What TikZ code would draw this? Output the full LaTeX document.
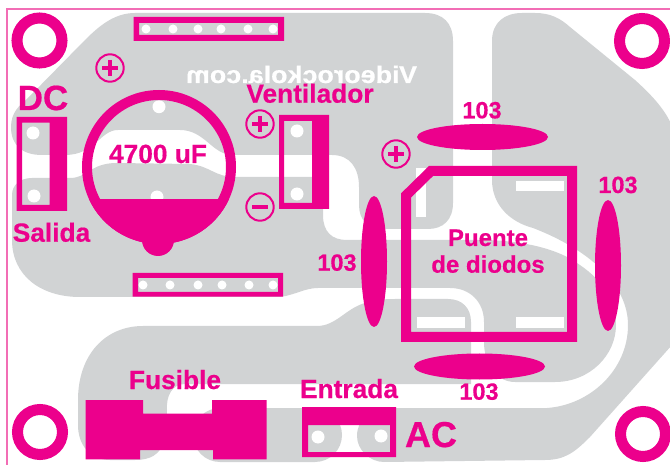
\documentclass[tikz,border=0pt]{standalone}
\usepackage{fontspec}
\setmainfont{Liberation Sans}[BoldFeatures={FakeBold=0.5}]
\definecolor{plategray}{HTML}{D1D3D4}
\definecolor{inkpink}{HTML}{EC008C}
\definecolor{edgepink}{HTML}{F26DB5}
\tikzset{
  plate/.style={fill=plategray},
  ink/.style={fill=inkpink},
  pad/.style={fill=white},
  bigtext/.style={text=inkpink,anchor=base,inner sep=0pt,font=\bfseries\fontsize{26.3}{30}\selectfont},
  captext/.style={text=inkpink,anchor=base,inner sep=0pt,font=\bfseries\fontsize{23.5}{28}\selectfont},
  ring/.style={draw=inkpink,line width=11pt},
  signring/.style={draw=inkpink,line width=2pt},
  signbar/.style={draw=inkpink,line width=3.6pt}
}
\begin{document}
\begin{tikzpicture}[x=1pt,y=-1pt]
  \useasboundingbox (0,0) rectangle (670,465);
  \clip (0,0) rectangle (670,465);

  % Gray copper areas
  \fill[plate] (135,13) -- (425,13) .. controls (443,13) and (453,23) .. (453,41)
    -- (453,203) .. controls (453,220) and (443,229) .. (428,229)
    -- (383,229) .. controls (368,229) and (359,220) .. (359,205)
    -- (359,187) .. controls (359,168) and (350,155) .. (332,155)
    -- (233,155) .. controls (212,155) and (205,130) .. (180,130)
    -- (118,130) .. controls (100,130) and (95,155) .. (65,155)
    -- (42,155) .. controls (22,155) and (11,145) .. (11,127)
    .. controls (11,112) and (20,105) .. (27,99)
    -- (85,40) .. controls (100,25) and (115,13) .. (135,13) -- cycle;
  \fill[plate] (12,195) .. controls (12,185) and (20,178) .. (32,178)
    -- (70,178) .. controls (88,178) and (90,163) .. (117,163)
    -- (190,164) .. controls (210,166) and (215,177) .. (235,177)
    -- (323,177) -- (323,215) .. controls (323,232) and (332,240) .. (347,240)
    -- (480,240) .. controls (520,240) and (550,248) .. (567,257)
    .. controls (590,270) and (616,290) .. (616,325)
    .. controls (616,355) and (590,382) .. (555,382)
    -- (515,382) .. controls (497,382) and (484,365) .. (484,342)
    -- (484,322) .. controls (484,302) and (470,288) .. (450,288)
    -- (318,288) .. controls (305,288) and (295,295) .. (280,297)
    -- (80,297) .. controls (40,297) and (12,275) .. (12,240) -- cycle;
  \fill[plate] (78,400) .. controls (78,355) and (105,326) .. (143,326)
    -- (317,326) .. controls (335,326) and (345,310) .. (362,304)
    .. controls (370,301) and (378,299) .. (395,299)
    -- (448,299) .. controls (462,299) and (471,308) .. (471,322)
    -- (471,384) -- (185,384) .. controls (172,384) and (166,396) .. (167,410)
    -- (165,440) .. controls (160,455) and (150,460) .. (135,460)
    -- (110,460) .. controls (90,460) and (78,445) .. (78,425) -- cycle;
  \fill[plate,rounded corners=27pt] (193,408) rectangle (342,462);
  \fill[plate] (492,41) .. controls (492,22) and (505,13) .. (522,13)
    -- (535,13) .. controls (550,13) and (560,18) .. (570,27)
    -- (635,80) .. controls (655,98) and (670,115) .. (675,135)
    -- (672,345) -- (590,437) .. controls (575,452) and (565,460) .. (545,460)
    -- (384,462) .. controls (370,462) and (357,450) .. (357,436)
    .. controls (357,420) and (370,408) .. (384,408)
    -- (547,408) .. controls (590,405) and (628,370) .. (628,325)
    .. controls (628,285) and (590,250) .. (533,228)
    .. controls (510,222) and (492,205) .. (492,180) -- cycle;

  % Board edge
  \draw[edgepink,line width=1.3pt] (7,480) -- (7,9) -- (690,9);

  % Mounting rings
  \foreach \ringx/\ringy in {39.5/40.5,642/41,40/432,643/434}
    \draw[ring] (\ringx,\ringy) circle (22.5);

  % Headers
  \fill[ink,even odd rule] (133.5,17) rectangle (284,41) (139,23) rectangle (278,35);
  \fill[ink,even odd rule] (132.7,273) rectangle (283,296.7) (138,278) rectangle (278,292);
  \foreach \padx in {146,173,198,221,248,273}
    \fill[pad] (\padx,29) circle (4.5);
  \foreach \padx in {143,170,198,222,249,273}
    \fill[pad] (\padx,285) circle (4.5);

  % Terminal blocks
  \fill[ink,even odd rule] (16.7,117) rectangle (67,211) (22,122.7) rectangle (49.5,205);
  \fill[ink,even odd rule] (279,115) rectangle (329,209) (284,121) rectangle (312,203);
  \fill[ink,even odd rule] (302,407) rectangle (396,457) (308,425) rectangle (390,452);
  \foreach \padx/\pady in {33/133,34/196,297/131,297/194,318/437,381/436}
    \fill[pad] (\padx,\pady) circle (6.5);

  % Capacitor
  \fill[pad] (159,106.7) circle (6.5);
  \fill[pad] (157,197) circle (6.5);
  \draw[inkpink,line width=10pt] (159,167) circle (72);
  \begin{scope}
    \clip (0,200) rectangle (670,300);
    \fill[ink] (159,167) circle (77);
  \end{scope}
  \fill[ink] (158,240) circle (16);

  % Polarity signs
  \draw[signring] (110,68) circle (13.7);
  \draw[signbar] (102,68) -- (118,68) (110,60) -- (110,76);
  \draw[signring] (260,124) circle (13.7);
  \draw[signbar] (252,124) -- (268,124) (260,116) -- (260,132);
  \draw[signring] (260,207) circle (13.7);
  \draw[signbar] (252,207) -- (268,207);
  \draw[signring] (396,154) circle (13.7);
  \draw[signbar] (388,154) -- (404,154) (396,146) -- (396,162);

  % Diode bridge
  \fill[pad] (516,181) rectangle (564,191);
  \fill[pad] (417,317) rectangle (465,328);
  \fill[pad] (516,317) rectangle (564,328);
  \fill[pad] (416,168) rectangle (426,217);
  \draw[inkpink,line width=10pt] (406,337) -- (406,195.5) -- (431,171) -- (572,171) -- (572,337) -- cycle;

  % Disc capacitors
  \fill[ink] (482.5,137) ellipse (65.5 and 13);
  \fill[ink] (479.5,366.5) ellipse (65.5 and 13);
  \fill[ink] (374,261.5) ellipse (13 and 65.5);
  \fill[ink] (608,265.5) ellipse (13 and 65.5);

  % Fuse
  \fill[ink] (85.7,400) -- (143,400) -- (143,413.7) -- (212,413.7) -- (212,400) -- (266.7,400)
    -- (266.7,459.3) -- (213,459.3) -- (213,450) -- (140,450) -- (140,459.3) -- (85.7,459.3) -- cycle;

  % Labels
  \node[anchor=base,inner sep=0pt,text=white,xscale=-1.12,transform shape,font=\bfseries\fontsize{24}{28}\selectfont] (webmark) at (301.5,83) {Videorockola.com};
  \node[bigtext,font=\bfseries\fontsize{35}{40}\selectfont] (dclabel) at (43,110) {DC};
  \node[bigtext] (salidalabel) at (51.5,241.7) {Salida};
  \node[bigtext] (caplabel) at (158,163) {4700 uF};
  \node[bigtext] (ventlabel) at (310,102.7) {Ventilador};
  \node[captext] (toplabel) at (482,118.3) {103};
  \node[captext] (rightlabel) at (618,193) {103};
  \node[captext] (leftlabel) at (337,270.7) {103};
  \node[captext] (bottomlabel) at (479,399.7) {103};
  \node[captext,font=\bfseries\fontsize{24}{28}\selectfont] (puentelabel) at (488,246) {Puente};
  \node[captext,font=\bfseries\fontsize{24}{28}\selectfont] (diodoslabel) at (488,272.7) {de diodos};
  \node[bigtext] (fuselabel) at (175,389) {Fusible};
  \node[bigtext] (entradalabel) at (349,398) {Entrada};
  \node[bigtext,font=\bfseries\fontsize{36}{40}\selectfont] (aclabel) at (431,447) {AC};
\end{tikzpicture}
\end{document}
